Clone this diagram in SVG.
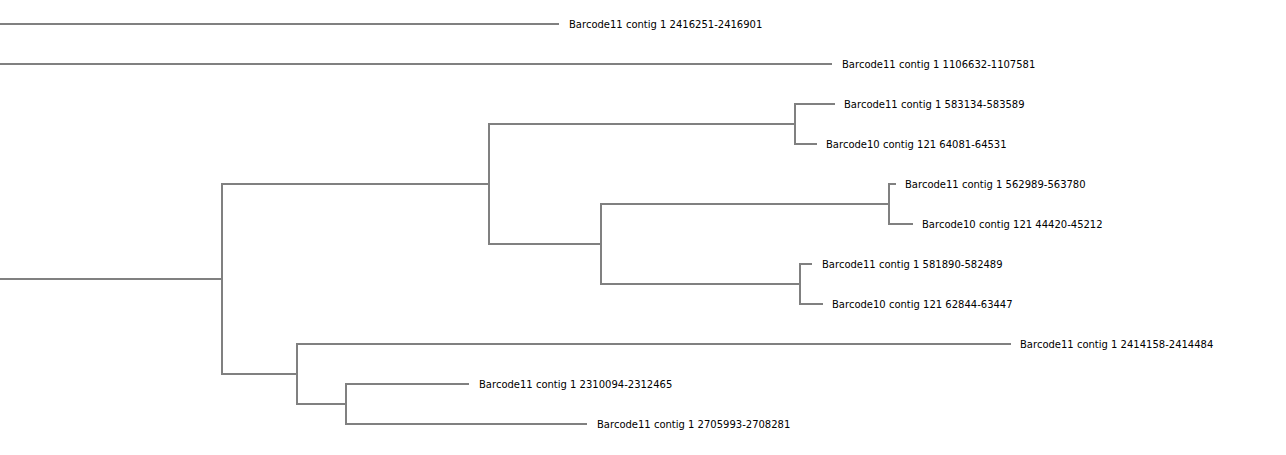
<svg xmlns="http://www.w3.org/2000/svg" width="1286" height="455" viewBox="0 0 1286 455">
<style>
.e{fill:none;stroke:#808080;stroke-width:2;stroke-linecap:square}
.t{font-family:"DejaVu Sans",sans-serif;font-size:10px;fill:#000}
</style>
<rect width="1286" height="455" fill="#fff"/>
<g id="connectors">
<path class="e" d="M0,279H222"/>
<path class="e" d="M222,184V374"/>
<path class="e" d="M222,184H489M489,124V244"/>
<path class="e" d="M489,124H795M795,104V144"/>
<path class="e" d="M489,244H601M601,204V284"/>
<path class="e" d="M601,204H889M889,184V224"/>
<path class="e" d="M601,284H800M800,264V304"/>
<path class="e" d="M222,374H297M297,344V404"/>
<path class="e" d="M297,404H346M346,384V424"/>
<path class="e" d="M0,24H558"/>
<path class="e" d="M0,64H831"/>
<path class="e" d="M795,104H834"/>
<path class="e" d="M795,144H816"/>
<path class="e" d="M889,184H895"/>
<path class="e" d="M889,224H912"/>
<path class="e" d="M800,264H811"/>
<path class="e" d="M800,304H822"/>
<path class="e" d="M297,344H1010"/>
<path class="e" d="M346,384H468"/>
<path class="e" d="M346,424H586"/>
</g>
<g id="leaf1"><text class="t" x="569" y="28.3">Barcode11 contig 1 2416251-2416901</text></g>
<g id="leaf2"><text class="t" x="842" y="68.3">Barcode11 contig 1 1106632-1107581</text></g>
<g id="leaf3"><text class="t" x="844" y="108.3">Barcode11 contig 1 583134-583589</text></g>
<g id="leaf4"><text class="t" x="826" y="148.3">Barcode10 contig 121 64081-64531</text></g>
<g id="leaf5"><text class="t" x="905" y="188.3">Barcode11 contig 1 562989-563780</text></g>
<g id="leaf6"><text class="t" x="922" y="228.3">Barcode10 contig 121 44420-45212</text></g>
<g id="leaf7"><text class="t" x="822" y="268.3">Barcode11 contig 1 581890-582489</text></g>
<g id="leaf8"><text class="t" x="832" y="308.3">Barcode10 contig 121 62844-63447</text></g>
<g id="leaf9"><text class="t" x="1020" y="348.3">Barcode11 contig 1 2414158-2414484</text></g>
<g id="leaf10"><text class="t" x="479" y="388.3">Barcode11 contig 1 2310094-2312465</text></g>
<g id="leaf11"><text class="t" x="597" y="428.3">Barcode11 contig 1 2705993-2708281</text></g>
</svg>
